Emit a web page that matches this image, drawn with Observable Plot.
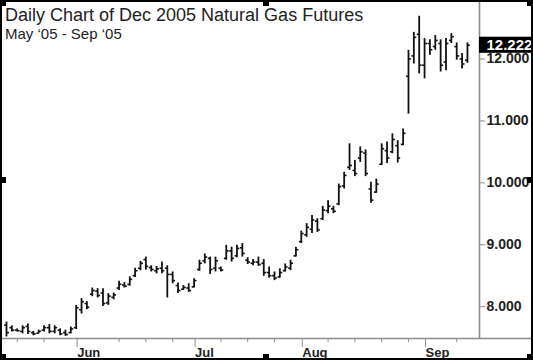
<!DOCTYPE html>
<html>
<head>
<meta charset="utf-8">
<script src="https://cdn.jsdelivr.net/npm/d3@7"></script>
<script src="https://cdn.jsdelivr.net/npm/@observablehq/plot@0.6"></script>
<style>
html, body { margin: 0; padding: 0; background: #fff; }
#wrap { position: relative; width: 533px; height: 360px; overflow: hidden; font-family: "Liberation Sans", Arial, sans-serif; background: #fff; }
#title { position: absolute; left: 5px; top: 5.5px; font-size: 18px; line-height: 18px; color: #222; white-space: nowrap; }
#subtitle { position: absolute; left: 5px; top: 25.6px; font-size: 15px; line-height: 15px; color: #222; white-space: nowrap; }
#chart { position: absolute; left: 0; top: 0; }
.border { position: absolute; left: 0; top: 0; width: 533px; height: 360px; box-sizing: border-box; border: 2px solid #000; pointer-events: none; }
.h { position: absolute; width: 6px; height: 6px; background: #000; }
</style>
</head>
<body>
<div id="wrap">
  <div id="chart"></div>
  <div id="title">Daily Chart of Dec 2005 Natural Gas Futures</div>
  <div id="subtitle">May ‘05 - Sep ‘05</div>
  <div class="border"></div>
  <div class="h" style="left:0;top:0"></div>
  <div class="h" style="left:263px;top:0"></div>
  <div class="h" style="left:527px;top:0"></div>
  <div class="h" style="left:0;top:177px"></div>
  <div class="h" style="left:527px;top:177px"></div>
  <div class="h" style="left:0;top:354px"></div>
  <div class="h" style="left:263px;top:354px"></div>
  <div class="h" style="left:527px;top:354px"></div>
</div>
<script>
// Trading days (one bar each)
const dates = [
  "2005-05-12","2005-05-13","2005-05-16","2005-05-17","2005-05-18","2005-05-19","2005-05-20",
  "2005-05-23","2005-05-24","2005-05-25","2005-05-26","2005-05-27","2005-05-31",
  "2005-06-01","2005-06-02","2005-06-03","2005-06-06","2005-06-07","2005-06-08","2005-06-09","2005-06-10",
  "2005-06-13","2005-06-14","2005-06-15","2005-06-16","2005-06-17","2005-06-20","2005-06-21","2005-06-22",
  "2005-06-23","2005-06-24","2005-06-27","2005-06-28","2005-06-29","2005-06-30",
  "2005-07-01","2005-07-05","2005-07-06","2005-07-07","2005-07-08","2005-07-11","2005-07-12","2005-07-13",
  "2005-07-14","2005-07-15","2005-07-18","2005-07-19","2005-07-20","2005-07-21","2005-07-22","2005-07-25",
  "2005-07-26","2005-07-27","2005-07-28","2005-07-29",
  "2005-08-01","2005-08-02","2005-08-03","2005-08-04","2005-08-05","2005-08-08","2005-08-09","2005-08-10",
  "2005-08-11","2005-08-12","2005-08-15","2005-08-16","2005-08-17","2005-08-18","2005-08-19","2005-08-22",
  "2005-08-23","2005-08-24","2005-08-25","2005-08-26","2005-08-29","2005-08-30","2005-08-31",
  "2005-09-01","2005-09-02","2005-09-06","2005-09-07","2005-09-08","2005-09-09","2005-09-12","2005-09-13","2005-09-14"
];
const open = [
  7.70,7.66,7.62,7.60,7.68,7.58,7.57,7.62,7.66,7.60,7.62,7.58,7.58,
  7.66,7.95,8.05,8.20,8.25,8.22,8.06,8.15,8.30,8.35,8.36,8.50,8.62,8.76,8.63,8.58,8.62,8.62,8.52,8.34,8.28,8.30,
  8.32,8.60,8.74,8.78,8.62,8.62,8.78,8.90,8.82,8.95,8.75,8.70,8.72,8.70,8.55,8.50,8.48,8.58,8.62,8.82,
  9.05,9.16,9.25,9.38,9.42,9.55,9.58,9.66,9.95,10.25,10.20,10.40,10.48,9.90,9.85,10.30,10.52,10.50,10.60,10.62,11.72,12.05,12.40,
  11.90,12.25,12.20,12.25,11.95,12.30,12.20,12.00,11.98
];
const high = [
  7.75,7.69,7.64,7.69,7.72,7.60,7.62,7.69,7.71,7.69,7.64,7.62,7.67,
  8.02,8.13,8.08,8.30,8.29,8.29,8.21,8.22,8.41,8.39,8.48,8.62,8.73,8.80,8.66,8.65,8.72,8.66,8.56,8.38,8.34,8.37,
  8.45,8.75,8.85,8.80,8.80,8.64,8.99,8.96,8.99,9.02,8.79,8.76,8.80,8.76,8.64,8.56,8.61,8.69,8.75,8.96,
  9.22,9.34,9.47,9.42,9.62,9.71,9.62,9.98,10.17,10.63,10.36,10.58,10.53,10.01,10.06,10.63,10.66,10.79,10.68,10.87,12.14,12.43,12.69,
  12.33,12.31,12.38,12.31,12.33,12.41,12.26,12.09,12.26
];
const low = [
  7.51,7.59,7.59,7.56,7.55,7.53,7.56,7.59,7.56,7.56,7.53,7.52,7.56,
  7.63,7.88,7.95,8.16,8.14,8.00,8.02,8.11,8.26,8.30,8.33,8.47,8.58,8.59,8.56,8.53,8.53,8.14,8.37,8.21,8.26,8.23,
  8.30,8.57,8.69,8.52,8.56,8.56,8.75,8.72,8.79,8.80,8.68,8.66,8.65,8.49,8.46,8.42,8.46,8.56,8.58,8.80,
  9.02,9.12,9.18,9.20,9.39,9.50,9.50,9.63,9.90,10.20,10.10,10.33,10.10,9.67,9.83,10.28,10.31,10.47,10.32,10.60,11.11,11.92,11.76,
  11.68,12.06,12.14,11.79,11.81,12.25,11.98,11.84,11.93
];
const close = [
  7.58,7.62,7.61,7.66,7.60,7.56,7.60,7.66,7.60,7.66,7.56,7.55,7.64,
  7.98,8.08,7.99,8.26,8.18,8.05,8.17,8.19,8.36,8.33,8.44,8.58,8.70,8.65,8.60,8.61,8.58,8.52,8.42,8.26,8.31,8.26,
  8.42,8.70,8.80,8.60,8.74,8.59,8.90,8.78,8.94,8.86,8.72,8.72,8.68,8.55,8.50,8.46,8.55,8.64,8.70,8.92,
  9.18,9.28,9.40,9.24,9.56,9.62,9.54,9.94,10.12,10.28,10.15,10.50,10.15,9.72,9.98,10.55,10.40,10.70,10.40,10.80,12.00,12.35,11.90,
  12.25,12.15,12.30,11.90,12.25,12.36,12.05,11.92,12.222
];
// Axis ticks
const monthTickDates = ["2005-06-01","2005-07-01","2005-08-01","2005-09-01"];
const monthTickLabels = ["Jun","Jul","Aug","Sep"];
const weekTickDates = ["2005-05-16","2005-05-23","2005-06-13","2005-06-20","2005-06-27","2005-07-11","2005-07-18",
  "2005-07-25","2005-08-08","2005-08-15","2005-08-22","2005-08-29","2005-09-12"];
const yTickValues = [8, 9, 10, 11, 12];

const bars = dates.map((d, i) => ({i, date: d, o: open[i], h: high[i], l: low[i], c: close[i]}));
const idx = d => dates.indexOf(d);
const monthTicks = monthTickDates.map(idx);
const weekTicks = weekTickDates.map(idx);
const monthLabel = new Map(monthTicks.map((t, k) => [t, monthTickLabels[k]]));

const W = 533, H = 360, mR = 54, mB = 22;
const xMin = -1.12, xMax = 88.25;
const xRight = xMax + mR * (xMax - xMin) / (W - mR);
const yMin = 7.485, yMax = 12.945;
const last = bars[bars.length - 1];
const ink = "#111";
const axisGray = "#8c8c8c";

const chart = Plot.plot({
  width: W, height: H,
  marginLeft: 0, marginRight: mR, marginTop: 0, marginBottom: mB,
  x: {domain: [xMin, xMax], axis: null, label: null},
  y: {domain: [yMin, yMax], axis: null, label: null},
  style: {fontFamily: "'Liberation Sans', Arial, sans-serif", background: "transparent", color: "#222"},
  marks: [
    Plot.ruleY([yMin], {x1: xMin, x2: xRight, stroke: axisGray, strokeWidth: 1.6}),
    Plot.ruleX([xMax], {y1: yMin, y2: yMax, stroke: axisGray, strokeWidth: 1.6}),
    Plot.axisY({anchor: "right", label: null, ticks: yTickValues, tickFormat: d3.format(".3f"), tickSize: 5, tickPadding: 2,
      fontSize: 14, fontWeight: "bold", stroke: axisGray, fill: "#222"}),
    Plot.axisX({anchor: "bottom", label: null, ticks: weekTicks, tickSize: 4, tickFormat: () => "", stroke: axisGray}),
    Plot.axisX({anchor: "bottom", label: null, ticks: monthTicks, tickSize: 9, tickPadding: 0, tickFormat: t => monthLabel.get(t),
      textAnchor: "start", dx: 1, fontSize: 13, fontWeight: "bold", stroke: axisGray, fill: "#222"}),
    Plot.ruleX(bars, {x: "i", y1: "l", y2: "h", stroke: ink, strokeWidth: 1.8}),
    Plot.link(bars, {x1: d => d.i - 0.45, x2: "i", y1: "o", y2: "o", stroke: ink, strokeWidth: 1.6}),
    Plot.link(bars, {x1: "i", x2: d => d.i + 0.45, y1: "c", y2: "c", stroke: ink, strokeWidth: 1.6}),
    Plot.rect([last], {x1: xMax, x2: xRight, y1: d => d.c - 0.13, y2: d => d.c + 0.13, fill: "#000"}),
    Plot.text([last], {x: xMax, y: "c", text: d => d.c.toFixed(3), dx: 7, textAnchor: "start",
      fill: "#fff", fontSize: 15, fontWeight: "bold"})
  ]
});
document.getElementById("chart").appendChild(chart);
</script>
</body>
</html>
